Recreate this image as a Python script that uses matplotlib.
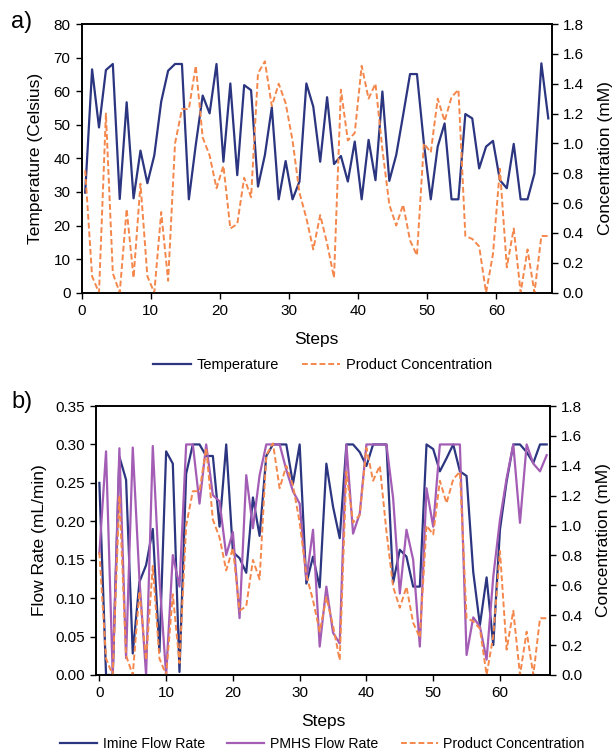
import numpy as np
import matplotlib
matplotlib.use("Agg")
import matplotlib.pyplot as plt
from matplotlib.ticker import MultipleLocator, FormatStrFormatter

plt.rcParams['font.family'] = ['Liberation Sans', 'DejaVu Sans']
plt.rcParams['font.size'] = 11

# data
steps = np.arange(68)

temperature = [29.8, 66.5, 49.2, 66.3, 68.1, 27.9, 56.7, 28.1, 42.3, 32.6,
               40.9, 56.9, 66.1, 68.1, 68.1, 27.8, 44.0, 58.7, 53.4, 68.1,
               39.0, 62.3, 35.0, 61.8, 60.3, 31.6, 41.0, 55.2, 27.8, 39.2,
               27.8, 33.1, 62.3, 55.4, 39.0, 58.2, 38.3, 40.7, 33.1, 45.0,
               27.8, 45.5, 33.5, 59.9, 33.3, 41.0, 52.9, 65.1, 65.1, 44.5,
               27.8, 43.5, 50.4, 27.8, 27.8, 53.2, 51.9, 37.0, 43.5, 45.2,
               33.5, 31.1, 44.3, 27.8, 27.8, 35.5, 68.3, 51.9]

concentration = [0.82, 0.11, 0.00, 1.20, 0.13, 0.00, 0.56, 0.10, 0.73, 0.11,
                 0.00, 0.54, 0.08, 1.00, 1.23, 1.23, 1.52, 1.04, 0.92, 0.70,
                 0.85, 0.43, 0.46, 0.77, 0.64, 1.47, 1.55, 1.25, 1.40, 1.27,
                 1.02, 0.67, 0.50, 0.29, 0.52, 0.33, 0.10, 1.36, 1.02, 1.07,
                 1.52, 1.30, 1.40, 0.96, 0.59, 0.45, 0.59, 0.35, 0.25, 1.00,
                 0.94, 1.30, 1.15, 1.31, 1.36, 0.38, 0.36, 0.31, 0.00, 0.26,
                 0.83, 0.17, 0.43, 0.00, 0.29, 0.00, 0.38, 0.38]

imine_flow = [0.250, 0.000, 0.000, 0.284, 0.254, 0.028, 0.121, 0.143, 0.190, 0.030,
              0.291, 0.275, 0.004, 0.262, 0.300, 0.300, 0.285, 0.285, 0.193, 0.300,
              0.160, 0.152, 0.133, 0.231, 0.181, 0.285, 0.300, 0.300, 0.300, 0.249,
              0.300, 0.119, 0.154, 0.114, 0.275, 0.219, 0.178, 0.300, 0.300, 0.290,
              0.272, 0.300, 0.300, 0.300, 0.120, 0.163, 0.154, 0.115, 0.115, 0.300,
              0.294, 0.265, 0.282, 0.300, 0.265, 0.259, 0.134, 0.065, 0.127, 0.039,
              0.189, 0.252, 0.300, 0.300, 0.290, 0.276, 0.300, 0.300]

pmhs_flow = [0.158, 0.291, 0.000, 0.295, 0.022, 0.296, 0.125, 0.000, 0.298, 0.124,
             0.000, 0.156, 0.115, 0.300, 0.300, 0.223, 0.300, 0.234, 0.226, 0.156,
             0.186, 0.074, 0.260, 0.191, 0.260, 0.300, 0.300, 0.300, 0.267, 0.239,
             0.223, 0.124, 0.189, 0.037, 0.115, 0.055, 0.041, 0.300, 0.184, 0.210,
             0.300, 0.300, 0.300, 0.300, 0.230, 0.106, 0.189, 0.150, 0.037, 0.243,
             0.193, 0.300, 0.300, 0.300, 0.300, 0.026, 0.075, 0.063, 0.020, 0.128,
             0.202, 0.256, 0.300, 0.198, 0.300, 0.275, 0.265, 0.286]

navy = '#2B3580'
purple = '#A35DB5'
orange = '#F4874B'

fig = plt.figure(figsize=(6.14, 7.53), dpi=100)


def style_axes(ax, ax2):
    for a in (ax, ax2):
        a.tick_params(direction='out', length=4, width=1, labelsize=11, pad=4)
        for s in a.spines.values():
            s.set_linewidth(1.2)
    ax.xaxis.set_major_locator(MultipleLocator(10))
    ax.set_xlabel('Steps', fontsize=12.5, labelpad=10)
    ax2.set_ylim(0, 1.8)
    ax2.yaxis.set_major_locator(MultipleLocator(0.2))
    ax2.yaxis.set_major_formatter(FormatStrFormatter('%.1f'))
    ax2.set_ylabel('Concentration (mM)', fontsize=12.5, labelpad=10)


leg_kw = dict(loc='center', frameon=False, fontsize=10.5, handlelength=2.6,
              handletextpad=0.4, columnspacing=1.6)

# ---- a) temperature
ax1 = fig.add_axes([0.1331, 0.6113, 0.7655, 0.3568])
ax1b = ax1.twinx()
x1 = steps + 0.5
l1, = ax1.plot(x1, temperature, color=navy, lw=1.6, label='Temperature')
l2, = ax1b.plot(x1, concentration, color=orange, lw=1.4, ls=(0, (3, 1.5)),
                label='Product Concentration')
ax1.set_xlim(0, 68)
ax1.set_ylim(0, 80)
ax1.yaxis.set_major_locator(MultipleLocator(10))
ax1.set_ylabel('Temperature (Celsius)', fontsize=12.5, labelpad=8)
style_axes(ax1, ax1b)
fig.legend(handles=[l1, l2], ncol=2, bbox_to_anchor=(0.525, 0.515),
           bbox_transform=fig.transFigure, **leg_kw)
fig.text(0.018, 0.971, 'a)', fontsize=17, va='center')

# ---- b) flow rates
ax2 = fig.add_axes([0.1564, 0.1036, 0.7394, 0.3572])
ax2b = ax2.twinx()
m1, = ax2.plot(steps, imine_flow, color=navy, lw=1.6, label='Imine Flow Rate')
m2, = ax2.plot(steps, pmhs_flow, color=purple, lw=1.6, label='PMHS Flow Rate')
m3, = ax2b.plot(steps, concentration, color=orange, lw=1.4, ls=(0, (3, 1.5)),
                label='Product Concentration')
ax2.set_xlim(-0.5, 67.5)
ax2.set_ylim(0, 0.35)
ax2.yaxis.set_major_locator(MultipleLocator(0.05))
ax2.yaxis.set_major_formatter(FormatStrFormatter('%.2f'))
ax2.set_ylabel('Flow Rate (mL/min)', fontsize=12.5, labelpad=6)
style_axes(ax2, ax2b)
leg_kw['fontsize'] = 10.2
fig.legend(handles=[m1, m2, m3], ncol=3, bbox_to_anchor=(0.525, 0.012),
           bbox_transform=fig.transFigure, **leg_kw)
fig.text(0.018, 0.466, 'b)', fontsize=17, va='center')

fig.savefig('out.png', dpi=100)
